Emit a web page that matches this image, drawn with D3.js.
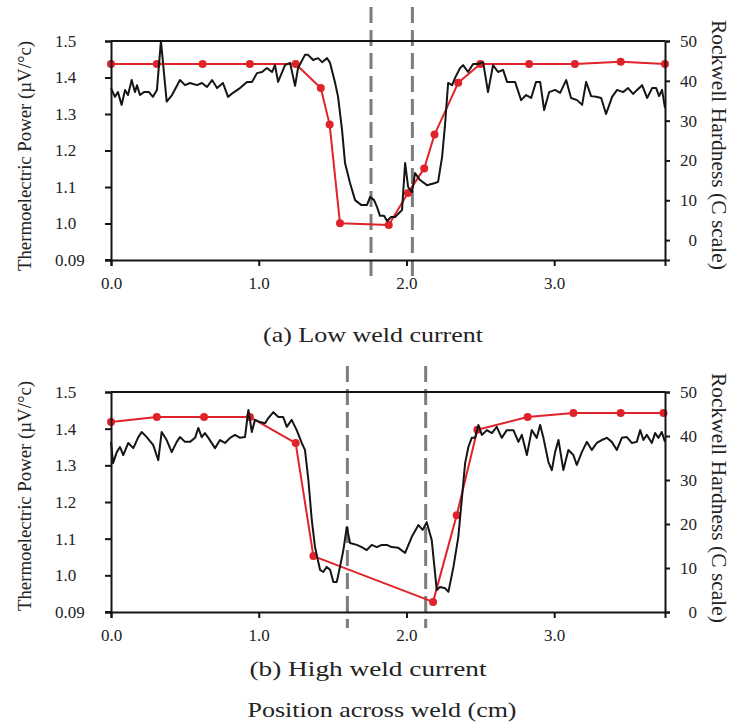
<!DOCTYPE html>
<html>
<head>
<meta charset="utf-8">
<script src="https://cdn.jsdelivr.net/npm/d3@7"></script>
<style>
  body { margin: 0; background: #fff; }
  svg { display: block; }
  text { font-family: "Liberation Serif", "Times New Roman", serif; fill: #222; }
</style>
</head>
<body>
<svg id="chart" width="734" height="723"></svg>
<script>
// ---- Low weld current: thermoelectric power scan (µV/°C) vs position (cm)
const lowTepPos = [0.000,0.027,0.047,0.072,0.095,0.115,0.140,0.162,0.176,0.196,0.223,0.257,0.284,0.311,0.338,0.377,0.413,0.467,0.501,0.535,0.582,0.616,0.650,0.684,0.718,0.758,0.792,0.826,0.873,0.921,0.955,0.988,1.022,1.056,1.090,1.110,1.131,1.178,1.212,1.246,1.266,1.313,1.334,1.368,1.402,1.429,1.463,1.483,1.517,1.537,1.564,1.584,1.618,1.652,1.693,1.733,1.754,1.781,1.801,1.821,1.848,1.869,1.896,1.923,1.943,1.970,1.991,2.011,2.038,2.058,2.092,2.139,2.194,2.214,2.241,2.261,2.282,2.309,2.329,2.363,2.383,2.417,2.451,2.485,2.519,2.552,2.586,2.620,2.654,2.681,2.735,2.776,2.810,2.844,2.877,2.905,2.932,2.966,3.006,3.040,3.081,3.114,3.155,3.189,3.216,3.250,3.284,3.318,3.351,3.392,3.426,3.466,3.500,3.534,3.561,3.595,3.629,3.663,3.690,3.710,3.730,3.750];
const lowTepVal = [1.371,1.347,1.360,1.325,1.366,1.352,1.393,1.360,1.379,1.352,1.360,1.360,1.347,1.366,1.500,1.334,1.352,1.393,1.379,1.385,1.379,1.385,1.374,1.393,1.371,1.385,1.347,1.358,1.371,1.388,1.388,1.412,1.415,1.426,1.415,1.434,1.388,1.434,1.440,1.377,1.426,1.462,1.462,1.448,1.453,1.442,1.453,1.440,1.385,1.347,1.256,1.166,1.111,1.064,1.051,1.051,1.073,1.064,1.045,1.021,1.021,1.007,1.018,1.018,1.026,1.037,1.166,1.100,1.086,1.138,1.119,1.105,1.111,1.114,1.182,1.270,1.385,1.379,1.399,1.426,1.434,1.415,1.437,1.437,1.442,1.360,1.434,1.415,1.421,1.388,1.388,1.338,1.352,1.344,1.388,1.388,1.311,1.360,1.366,1.358,1.393,1.344,1.338,1.325,1.388,1.349,1.347,1.344,1.300,1.347,1.366,1.360,1.371,1.355,1.366,1.379,1.344,1.371,1.371,1.349,1.366,1.316];

// ---- Low weld current: Rockwell C hardness traverse
const lowHrcPos = [0.00,0.31,0.62,0.94,1.25,1.42,1.48,1.55,1.88,2.01,2.12,2.19,2.35,2.50,2.83,3.14,3.45,3.75];
const lowHrcVal = [44.2,44.2,44.2,44.2,44.2,38.2,29.0,4.2,3.8,11.8,18.0,26.5,39.5,44.2,44.2,44.2,44.8,44.2];

// ---- Low weld current: fusion zone boundaries (cm)
const lowFusion = [1.76, 2.04];

// ---- High weld current: thermoelectric power scan
const highTepPos = [0.000,0.014,0.039,0.061,0.083,0.117,0.151,0.185,0.208,0.242,0.286,0.320,0.343,0.377,0.411,0.445,0.467,0.501,0.535,0.569,0.591,0.614,0.636,0.659,0.704,0.738,0.772,0.806,0.840,0.873,0.907,0.930,0.953,0.975,1.009,1.043,1.065,1.099,1.133,1.165,1.190,1.223,1.257,1.291,1.313,1.336,1.359,1.381,1.415,1.437,1.460,1.483,1.505,1.528,1.550,1.573,1.596,1.618,1.664,1.697,1.731,1.765,1.799,1.833,1.867,1.900,1.945,1.991,2.036,2.081,2.110,2.137,2.171,2.205,2.227,2.261,2.284,2.318,2.351,2.374,2.397,2.419,2.442,2.464,2.487,2.510,2.544,2.578,2.611,2.645,2.679,2.724,2.758,2.781,2.815,2.848,2.882,2.905,2.927,2.961,2.984,3.006,3.029,3.062,3.096,3.130,3.153,3.187,3.221,3.255,3.288,3.322,3.356,3.390,3.424,3.458,3.492,3.525,3.559,3.582,3.604,3.627,3.661,3.683,3.706,3.728,3.750];
const highTepVal = [1.364,1.306,1.336,1.350,1.328,1.361,1.347,1.377,1.391,1.377,1.355,1.314,1.391,1.369,1.336,1.364,1.377,1.364,1.364,1.375,1.402,1.377,1.388,1.375,1.347,1.369,1.361,1.375,1.383,1.375,1.377,1.451,1.391,1.424,1.418,1.415,1.429,1.445,1.432,1.432,1.405,1.424,1.396,1.361,1.342,1.260,1.151,1.077,1.015,1.009,1.023,1.015,0.982,0.982,1.023,1.069,1.132,1.088,1.083,1.077,1.069,1.083,1.077,1.083,1.083,1.077,1.075,1.061,1.105,1.137,1.124,1.145,1.096,0.960,0.968,0.965,0.955,1.023,1.105,1.205,1.306,1.350,1.375,1.375,1.410,1.383,1.396,1.388,1.405,1.375,1.396,1.396,1.364,1.383,1.328,1.396,1.375,1.410,1.375,1.309,1.287,1.336,1.369,1.287,1.342,1.328,1.301,1.336,1.364,1.342,1.361,1.369,1.375,1.364,1.342,1.375,1.377,1.361,1.364,1.396,1.369,1.383,1.361,1.388,1.375,1.391,1.364];

// ---- High weld current: Rockwell C hardness traverse
const highHrcPos = [0.00,0.31,0.63,0.94,1.25,1.37,2.18,2.34,2.48,2.82,3.13,3.45,3.74];
const highHrcVal = [43.2,44.3,44.3,44.3,38.4,12.7,2.3,22.0,41.4,44.3,45.2,45.2,45.2];

// ---- High weld current: fusion zone boundaries (cm)
const highFusion = [1.60, 2.13];

// ---- Axis ticks and labels
const posDomain = [0, 3.75];
const posTicks = [0, 1, 2, 3];
const posTickLabels = ["0.0", "1.0", "2.0", "3.0"];
const tepDomain = [0.9, 1.5];
const tepTicks = [0.9, 1.0, 1.1, 1.2, 1.3, 1.4, 1.5];
const tepTickLabels = ["0.09", "1.0", "1.1", "1.2", "1.3", "1.4", "1.5"];
const hrcTicks = [0, 10, 20, 30, 40, 50];
const lowHrcDomain = [-5, 50];
const highHrcDomain = [0, 50];

const captions = ["(a) Low weld current", "(b) High weld current"];
const tepTitle = "Thermoelectric Power (\u00B5V/\u00B0c)";
const hrcTitle = "Rockwell Hardness (C scale)";
const xTitle = "Position across weld (cm)";

// ---- Drawing
const svg = d3.select("#chart");
svg.append("rect").attr("width", 734).attr("height", 723).attr("fill", "#fff");

const X0 = 111, X1 = 665;
const RED = "#e0232a";
const INK = "#151515";

const panels = [
  { top: 41, bottom: 260, tepPos: lowTepPos, tepVal: lowTepVal, hrcPos: lowHrcPos, hrcVal: lowHrcVal,
    hrcDomain: lowHrcDomain, fusion: lowFusion, caption: captions[0],
    capX: 373, capY: 342, capLen: 220, dashTop: 7, dashBottom: 278, leftMid: 156, rightMid: 145 },
  { top: 392, bottom: 612, tepPos: highTepPos, tepVal: highTepVal, hrcPos: highHrcPos, hrcVal: highHrcVal,
    hrcDomain: highHrcDomain, fusion: highFusion, caption: captions[1],
    capX: 368, capY: 676, capLen: 237, dashTop: 366, dashBottom: 628, leftMid: 496, rightMid: 498 }
];

panels.forEach(p => {
  const x = d3.scaleLinear().domain(posDomain).range([X0, X1]);
  const yT = d3.scaleLinear().domain(tepDomain).range([p.bottom, p.top]);
  const yH = d3.scaleLinear().domain(p.hrcDomain).range([p.bottom, p.top]);

  const g = svg.append("g");

  // fusion zone boundaries
  g.selectAll(".fz").data(p.fusion).enter().append("line")
    .attr("x1", d => x(d)).attr("x2", d => x(d))
    .attr("y1", p.dashTop).attr("y2", p.dashBottom)
    .attr("stroke", "#7d7d7d").attr("stroke-width", 3)
    .attr("stroke-dasharray", "16,7");

  // hardness traverse
  const hrc = d3.zip(p.hrcPos, p.hrcVal);
  g.append("path").datum(hrc)
    .attr("fill", "none").attr("stroke", RED).attr("stroke-width", 2)
    .attr("stroke-linejoin", "round")
    .attr("d", d3.line().x(d => x(d[0])).y(d => yH(d[1])));
  g.selectAll(".hrcDot").data(hrc).enter().append("circle")
    .attr("cx", d => x(d[0])).attr("cy", d => yH(d[1])).attr("r", 4)
    .attr("fill", RED);

  // thermoelectric power scan
  const tep = d3.zip(p.tepPos, p.tepVal);
  g.append("path").datum(tep)
    .attr("fill", "none").attr("stroke", INK).attr("stroke-width", 2)
    .attr("stroke-linejoin", "round")
    .attr("d", d3.line().x(d => x(d[0])).y(d => yT(d[1])));

  // frame: top border
  g.append("line").attr("x1", X0).attr("x2", X1).attr("y1", p.top).attr("y2", p.top)
    .attr("stroke", INK).attr("stroke-width", 2);

  // left axis (thermoelectric power)
  const ax = g.append("g").attr("transform", `translate(${X0},0)`)
    .call(d3.axisLeft(yT).tickValues(tepTicks).tickSizeOuter(0).tickSize(6)
      .tickFormat((d, i) => tepTickLabels[i]));
  ax.selectAll("text").attr("text-anchor", "start").attr("x", -56)
    .style("font-size", "17px").style("font-family", "Liberation Serif").attr("fill", "#333");

  // right axis (hardness)
  const ar = g.append("g").attr("transform", `translate(${X1},0)`)
    .call(d3.axisRight(yH).tickValues(hrcTicks).tickSizeOuter(0).tickSize(5)
      .tickFormat(d3.format("d")));
  ar.selectAll("text").attr("text-anchor", "end").attr("x", 32)
    .style("font-size", "17px").style("font-family", "Liberation Serif").attr("fill", "#333");

  // bottom axis (position)
  const ab = g.append("g").attr("transform", `translate(0,${p.bottom})`)
    .call(d3.axisBottom(x).tickValues(posTicks).tickSizeOuter(0).tickSize(6)
      .tickFormat((d, i) => posTickLabels[i]));
  ab.selectAll("text").attr("y", 17).attr("dy", "0.71em")
    .style("font-size", "17px").style("font-family", "Liberation Serif").attr("fill", "#333");
  ab.append("line").attr("x1", X0 - 6).attr("x2", X0).attr("y1", 0).attr("y2", 0)
    .attr("stroke", INK).attr("stroke-width", 2);

  [ax, ar, ab].forEach(a => {
    a.select(".domain").attr("stroke", INK).attr("stroke-width", 2);
    a.selectAll(".tick line").attr("stroke", INK).attr("stroke-width", 2);
  });

  // axis titles
  svg.append("text")
    .attr("transform", `translate(31,${p.leftMid}) rotate(-90)`)
    .attr("text-anchor", "middle").style("font-size", "19px")
    .attr("textLength", 230).attr("lengthAdjust", "spacingAndGlyphs")
    .text(tepTitle);
  svg.append("text")
    .attr("transform", `translate(712,${p.rightMid}) rotate(90)`)
    .attr("text-anchor", "middle").style("font-size", "20px")
    .attr("textLength", 250).attr("lengthAdjust", "spacingAndGlyphs")
    .text(hrcTitle);

  // panel caption
  svg.append("text")
    .attr("x", p.capX).attr("y", p.capY).attr("text-anchor", "middle")
    .style("font-size", "22px")
    .attr("textLength", p.capLen).attr("lengthAdjust", "spacingAndGlyphs")
    .text(p.caption);
});

svg.append("text")
  .attr("x", 382).attr("y", 717).attr("text-anchor", "middle")
  .style("font-size", "22px")
  .attr("textLength", 269).attr("lengthAdjust", "spacingAndGlyphs")
  .text(xTitle);
</script>
</body>
</html>
